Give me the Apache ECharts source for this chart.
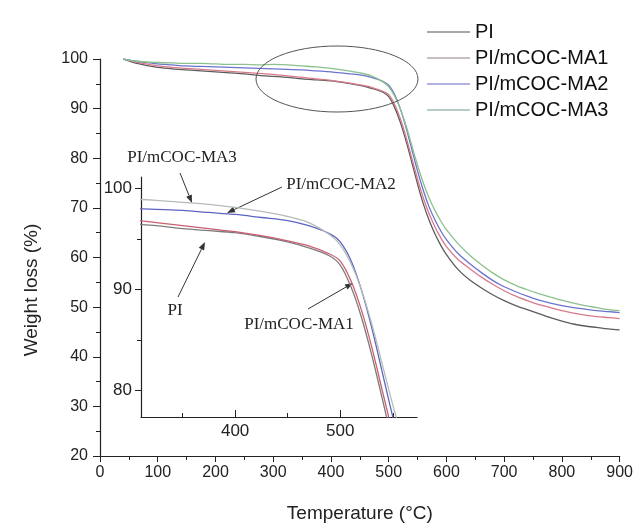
<!DOCTYPE html>
<html>
<head>
<meta charset="utf-8">
<script src="https://cdn.jsdelivr.net/npm/echarts@6/dist/echarts.min.js"></script>
<style>
html, body { margin: 0; padding: 0; background: #fff; }
#chart { width: 636px; height: 528px; }
</style>
</head>
<body>
<div id="chart"></div>
<script>
// temperature (°C) sample points shared by all curves
const temps = [40, 50, 60, 80, 100, 125, 150, 175, 200, 225, 250, 275, 300, 325, 350, 375, 400, 425, 450, 470, 490,
  500, 510, 520, 530, 540, 550, 560, 570, 580, 590, 600, 620, 640, 660, 680, 700, 720, 740, 760, 780, 800, 820, 840, 860, 880, 900];

// weight (%)
const piLoss = [100, 99.6, 99.2, 98.7, 98.3, 98.0, 97.8, 97.6, 97.4, 97.2, 97.0, 96.7, 96.5, 96.3, 96.0, 95.8, 95.6, 95.2, 94.7, 94.1, 93.3,
  92.4, 90.3, 87.3, 83.5, 79.2, 74.8, 70.8, 67.5, 64.8, 62.5, 60.6, 57.6, 55.5, 53.9, 52.5, 51.3, 50.3, 49.5, 48.7, 47.9, 47.2, 46.6, 46.2, 45.9, 45.6, 45.4];
const ma1Loss = [100, 99.7, 99.4, 99.0, 98.6, 98.3, 98.1, 97.9, 97.7, 97.5, 97.3, 97.1, 96.9, 96.6, 96.3, 96.0, 95.7, 95.3, 94.8, 94.3, 93.5,
  92.8, 90.9, 88.0, 84.3, 80.0, 75.8, 72.0, 68.8, 66.2, 64.0, 62.2, 59.6, 57.8, 56.1, 54.6, 53.3, 52.2, 51.3, 50.5, 49.9, 49.3, 48.8, 48.4, 48.1, 47.9, 47.7];
const ma2Loss = [100, 99.8, 99.6, 99.3, 99.0, 98.8, 98.6, 98.5, 98.4, 98.3, 98.2, 98.1, 98.0, 97.9, 97.8, 97.6, 97.4, 97.1, 96.8, 96.3, 95.5,
  94.7, 92.9, 90.0, 86.2, 81.8, 77.4, 73.5, 70.2, 67.6, 65.4, 63.6, 60.8, 58.8, 57.0, 55.4, 54.1, 53.1, 52.2, 51.4, 50.8, 50.3, 49.9, 49.6, 49.3, 49.1, 48.9];
const ma3Loss = [100, 99.8, 99.6, 99.4, 99.3, 99.2, 99.1, 99.1, 99.0, 98.9, 98.9, 98.8, 98.9, 98.8, 98.6, 98.4, 98.1, 97.7, 97.2, 96.6, 95.4,
  94.4, 92.6, 90.0, 86.6, 82.6, 78.6, 75.0, 72.0, 69.5, 67.4, 65.6, 62.8, 60.5, 58.6, 56.9, 55.5, 54.4, 53.5, 52.7, 52.0, 51.4, 50.8, 50.3, 49.9, 49.5, 49.3];

const seriesNames = ['PI', 'PI/mCOC-MA1', 'PI/mCOC-MA2', 'PI/mCOC-MA3'];
const insetXLabels = [400, 500];
const insetXMinor = [350, 450, 550];
const insetYLabels = [80, 90, 100];
const insetYMinor = [85, 95];

const allLoss = [piLoss, ma1Loss, ma2Loss, ma3Loss];
const mainColors = ['#5c5c5c', '#d97a8a', '#6b74cc', '#8cc08c'];
const insetColors = ['#7c7c7c', '#c95f70', '#5d64c2', '#b5bdb8'];
const legendColors = ['#8a8a8a', '#b7a6ae', '#9a98d8', '#9fbdb0'];

const chart = echarts.init(document.getElementById('chart'));
const font = 'Liberation Sans, Arial, sans-serif';
const serif = 'Liberation Serif, Times New Roman, serif';

function pairs(loss) {
  return temps.map((t, i) => [t, loss[i]]);
}

function arrow(x1, y1, x2, y2) {
  const a = Math.atan2(y2 - y1, x2 - x1);
  const L = 8, W = 3;
  const bx = x2 - L * Math.cos(a), by = y2 - L * Math.sin(a);
  const px = -Math.sin(a) * W, py = Math.cos(a) * W;
  return [
    { type: 'line', shape: { x1: x1, y1: y1, x2: bx, y2: by }, style: { stroke: '#333', lineWidth: 1 } },
    { type: 'polygon', shape: { points: [[x2, y2], [bx + px, by + py], [bx - px, by - py]] }, style: { fill: '#333' } }
  ];
}

function note(text, x, y) {
  return { type: 'text', x: x, y: y, style: { text: text, font: '17px ' + serif, fill: '#222', align: 'center', verticalAlign: 'middle' } };
}

const axisLine = { show: true, lineStyle: { color: '#222', width: 1.2 } };
const series = [];
allLoss.forEach((loss, i) => {
  series.push({
    name: seriesNames[i], type: 'line', xAxisIndex: 0, yAxisIndex: 0,
    data: pairs(loss), showSymbol: false, symbol: 'none', smooth: 0.3,
    lineStyle: { color: mainColors[i], width: 1.3 }, itemStyle: { color: mainColors[i] }, z: 2 + i
  });
});
allLoss.forEach((loss, i) => {
  series.push({
    name: seriesNames[i], type: 'line', xAxisIndex: 1, yAxisIndex: 1,
    data: pairs(loss), showSymbol: false, symbol: 'none', smooth: 0.3, clip: true,
    lineStyle: { color: insetColors[i], width: 1.3 }, itemStyle: { color: insetColors[i] }, z: 2 + i
  });
});

const option = {
  animation: false,
  backgroundColor: '#fff',
  textStyle: { fontFamily: font },
  legend: {
    orient: 'vertical', left: 422, top: 17, itemWidth: 43, itemHeight: 1.5, itemGap: 6,
    icon: 'rect',
    textStyle: { fontSize: 20, color: '#111', fontFamily: font, lineHeight: 20 },
    data: seriesNames.map((n, i) => ({ name: n, itemStyle: { color: legendColors[i] } }))
  },
  grid: [
    { left: 100, right: 15, top: 59, bottom: 69 },
    { left: 141, top: 177, width: 276, height: 240 }
  ],
  xAxis: [
    {
      type: 'value', gridIndex: 0, position: 'bottom', min: 0, max: 900, interval: 100,
      name: 'Temperature (°C)', nameLocation: 'middle', nameGap: 48,
      nameTextStyle: { fontSize: 19, color: '#222', fontFamily: font },
      axisLine: axisLine, axisTick: { length: 6, lineStyle: { color: '#222' } },
      minorTick: { show: true, splitNumber: 2, length: 4, lineStyle: { color: '#222' } },
      axisLabel: { fontSize: 16, color: '#222', margin: 9 }, splitLine: { show: false }
    },
    {
      type: 'value', gridIndex: 1, position: 'bottom', min: 310.5, max: 573,
      axisLine: axisLine,
      axisTick: { inside: true, length: 7, customValues: insetXLabels, lineStyle: { color: '#222' } },
      axisLabel: { customValues: insetXLabels, fontSize: 17, color: '#222', margin: 6 }, splitLine: { show: false }
    },
    {
      type: 'value', gridIndex: 1, position: 'bottom', offset: 0, min: 310.5, max: 573,
      axisLine: { show: false },
      axisTick: { inside: true, length: 4, customValues: insetXMinor, lineStyle: { color: '#222' } },
      axisLabel: { show: false }, splitLine: { show: false }
    }
  ],
  yAxis: [
    {
      type: 'value', gridIndex: 0, position: 'left', min: 20, max: 100, interval: 10,
      axisLine: axisLine, axisTick: { length: 7, lineStyle: { color: '#222' } },
      minorTick: { show: true, splitNumber: 2, length: 4, lineStyle: { color: '#222' } },
      axisLabel: { fontSize: 16, color: '#222', margin: 12 }, splitLine: { show: false }
    },
    {
      type: 'value', gridIndex: 1, position: 'left', min: 77.4, max: 101.1,
      axisLine: axisLine,
      axisTick: { length: 6, customValues: insetYLabels, lineStyle: { color: '#222' } },
      axisLabel: { customValues: insetYLabels, fontSize: 17, color: '#222', margin: 9 }, splitLine: { show: false }
    },
    {
      type: 'value', gridIndex: 1, position: 'left', offset: 0, min: 77.4, max: 101.1,
      axisLine: { show: false },
      axisTick: { length: 4, customValues: insetYMinor, lineStyle: { color: '#222' } },
      axisLabel: { show: false }, splitLine: { show: false }
    }
  ],
  series: series,
  graphic: [
    { type: 'text', x: 32, y: 290, rotation: Math.PI / 2,
      style: { text: 'Weight loss (%)', font: '19px ' + font, fill: '#222', align: 'center', verticalAlign: 'middle' } },
    { type: 'ellipse', shape: { cx: 337, cy: 79, rx: 81, ry: 33 }, style: { fill: 'none', stroke: '#555', lineWidth: 1 }, z: 10 },
    note('PI/mCOC-MA3', 182, 158),
    note('PI/mCOC-MA2', 341, 185),
    note('PI', 175, 311),
    note('PI/mCOC-MA1', 299, 325),
    ...arrow(180, 173, 192, 203),
    ...arrow(282, 187, 227, 213),
    ...arrow(178, 297, 205, 242),
    ...arrow(308, 309, 353, 283)
  ]
};

chart.setOption(option);
</script>
</body>
</html>
